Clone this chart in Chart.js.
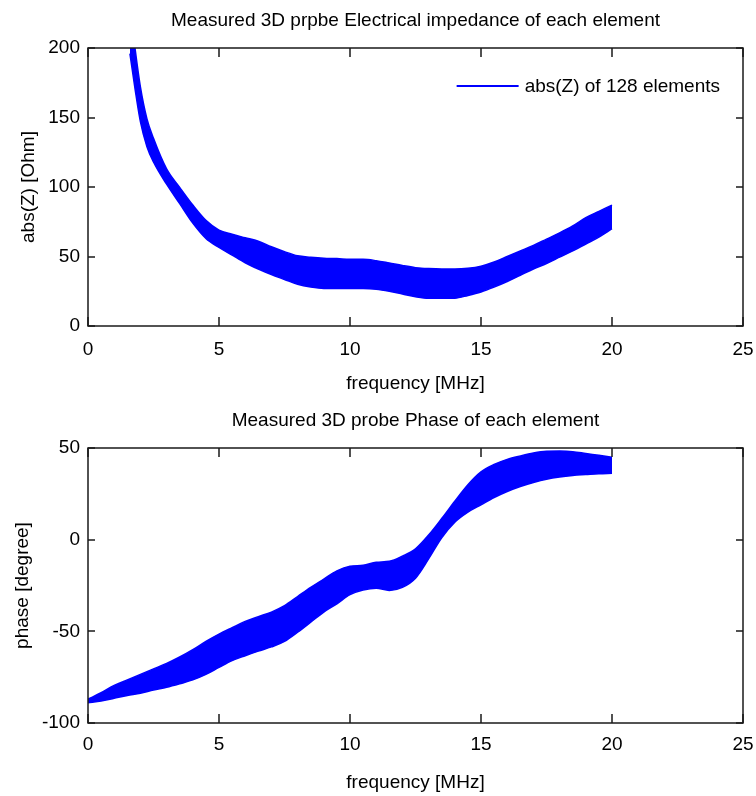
<!DOCTYPE html>
<html>
<head>
<meta charset="utf-8">
<title>Measured 3D probe impedance and phase</title>
<script src="https://cdn.jsdelivr.net/npm/chart.js@4.4.1/dist/chart.umd.min.js"></script>
<style>
  html, body { margin: 0; padding: 0; background: #fff; }
  canvas { display: block; }
</style>
</head>
<body>
<canvas id="impedanceChart" width="756" height="400"></canvas>
<canvas id="phaseChart" width="756" height="396"></canvas>
<script>
// envelope of the 128 element curves: top and bottom edge of the band
const freqZ = [1.6, 1.8, 2.0, 2.25, 2.5, 3, 3.5, 4, 4.5, 5, 5.5, 6, 6.5, 7, 7.5, 8, 8.5, 9, 9.5, 10,
               10.5, 11, 11.5, 12, 12.5, 13, 13.5, 14, 14.5, 15, 15.5, 16, 16.5, 17, 17.5, 18, 18.5, 19, 19.5, 20];
const absZUpper = [230, 199, 172, 149, 135, 113, 99.7, 87, 76, 69, 66, 63.5, 61, 57, 53.5, 50.5, 49.5, 48.8, 48.5, 48,
                   48, 47, 45.3, 43.5, 42, 41.3, 41, 41, 41.5, 43, 46, 50, 54, 58, 62.5, 67, 72, 78, 82.5, 87];
const absZLower = [196, 170, 147, 129, 118, 102, 88, 74, 63, 56.5, 51, 45.5, 41, 37, 33.5, 30, 28, 27, 27, 27,
                   27, 26.5, 25, 23, 21, 19.9, 19.9, 20, 22, 24.5, 28, 32, 36.5, 41, 45, 49.5, 54, 59, 64, 70];

const freqPhase = [0, 0.5, 1, 1.5, 2, 2.5, 3, 3.5, 4, 4.5, 5, 5.5, 6, 6.5, 7, 7.5, 8, 8.5, 9, 9.5, 10,
                   10.5, 11, 11.5, 12, 12.5, 13, 13.5, 14, 14.5, 15, 15.5, 16, 16.5, 17, 17.5, 18, 18.5, 19, 19.5, 20];
const phaseUpper = [-87, -83.5, -79.5, -76.5, -73.5, -70.5, -67.5, -64, -60, -55.5, -51.5, -48, -44.6, -42, -39.5, -36, -31, -26, -21.5, -17, -14.5,
                    -14, -12.3, -11.8, -9, -5, 2.5, 11.5, 21, 30, 37, 41, 43.8, 45.7, 47.3, 48.2, 48.3, 48, 47, 46, 45];
const phaseLower = [-89, -88, -86.5, -85, -83.8, -82, -80.5, -78.6, -76.5, -73.5, -69.7, -66, -63.3, -60.8, -58.5, -55.5, -50.5, -45, -39.5, -35, -30,
                    -27.5, -26.5, -27.7, -26, -21, -10.5, 1, 9.5, 15, 19, 23, 26.3, 29, 31.2, 33, 34.2, 35, 35.5, 36, 36.2];

const freqTicks = [0, 5, 10, 15, 20, 25];
const absZTicks = [0, 50, 100, 150, 200];
const phaseTicks = [-100, -50, 0, 50];

const FONT = "'Liberation Sans', Arial, sans-serif";
const FONT_SIZE = 19;
const BLUE = '#0000ff';

Chart.defaults.font.family = FONT;
Chart.defaults.font.size = FONT_SIZE;
Chart.defaults.color = '#000';

// matlab style frame: full box with inward ticks on every side
const boxTicks = {
    id: 'boxTicks',
    afterDatasetsDraw(chart) {
        const { ctx, chartArea: a, scales: { x, y } } = chart;
        ctx.save();
        ctx.strokeStyle = '#1a1a1a';
        ctx.lineWidth = 1.5;
        ctx.strokeRect(a.left, a.top, a.right - a.left, a.bottom - a.top);
        ctx.beginPath();
        x.ticks.forEach(t => {
            const px = Math.round(x.getPixelForValue(t.value));
            ctx.moveTo(px, a.bottom); ctx.lineTo(px, a.bottom - 9);
            ctx.moveTo(px, a.top); ctx.lineTo(px, a.top + 9);
        });
        y.ticks.forEach(t => {
            const py = Math.round(y.getPixelForValue(t.value));
            ctx.moveTo(a.left, py); ctx.lineTo(a.left + 7, py);
            ctx.moveTo(a.right, py); ctx.lineTo(a.right - 7, py);
        });
        ctx.stroke();
        ctx.restore();
    }
};

// legend entry inside the top right corner of the plot
const cornerLegend = {
    id: 'cornerLegend',
    afterDraw(chart, args, opts) {
        if (!opts.show) return;
        const { ctx, chartArea: a } = chart;
        const ds = chart.data.datasets[0];
        ctx.save();
        ctx.font = FONT_SIZE + 'px ' + FONT;
        const w = ctx.measureText(ds.label).width;
        const tx = a.right - 23 - w;
        const ty = a.top + 38;
        ctx.strokeStyle = ds.borderColor;
        ctx.lineWidth = 2;
        ctx.beginPath();
        ctx.moveTo(tx - 68, ty);
        ctx.lineTo(tx - 6, ty);
        ctx.stroke();
        ctx.fillStyle = '#000';
        ctx.textBaseline = 'middle';
        ctx.fillText(ds.label, tx, ty + 1);
        ctx.restore();
    }
};

function bandChart(canvasId, cfg) {
    const canvas = document.getElementById(canvasId);
    const H = canvas.height;
    return new Chart(canvas.getContext('2d'), {
        type: 'line',
        data: {
            datasets: [
                {
                    label: cfg.label,
                    data: cfg.freq.map((f, i) => ({ x: f, y: cfg.upper[i] })),
                    borderColor: BLUE,
                    backgroundColor: BLUE,
                    borderWidth: 1.5,
                    pointRadius: 0,
                    cubicInterpolationMode: 'monotone',
                    fill: '+1'
                },
                {
                    label: cfg.label + ' (lower)',
                    data: cfg.freq.map((f, i) => ({ x: f, y: cfg.lower[i] })),
                    borderColor: BLUE,
                    backgroundColor: BLUE,
                    borderWidth: 1.5,
                    pointRadius: 0,
                    cubicInterpolationMode: 'monotone',
                    fill: false
                }
            ]
        },
        options: {
            responsive: false,
            animation: false,
            layout: { padding: { left: 0, right: 13, top: 0, bottom: 0 } },
            plugins: {
                legend: { display: false },
                tooltip: { enabled: false },
                title: {
                    display: true,
                    fullSize: false,
                    text: cfg.title,
                    font: { weight: 'normal', lineHeight: 1 },
                    padding: { top: 11.5, bottom: 17.5 }
                },
                cornerLegend: { show: cfg.legend }
            },
            scales: {
                x: {
                    type: 'linear',
                    min: cfg.xTicks[0],
                    max: cfg.xTicks[cfg.xTicks.length - 1],
                    afterBuildTicks: s => { s.ticks = cfg.xTicks.map(v => ({ value: v })); },
                    afterFit: s => { s.height = H - cfg.bottom; s.paddingLeft = 0; s.paddingRight = 0; },
                    grid: { display: false, drawTicks: false },
                    border: { display: false },
                    ticks: { padding: cfg.xTickPad, maxRotation: 0, font: { lineHeight: 1 } },
                    title: {
                        display: true,
                        text: 'frequency [MHz]',
                        font: { lineHeight: 1 },
                        padding: { top: 0, bottom: cfg.xTitlePad }
                    }
                },
                y: {
                    min: cfg.yTicks[0],
                    max: cfg.yTicks[cfg.yTicks.length - 1],
                    afterBuildTicks: s => { s.ticks = cfg.yTicks.map(v => ({ value: v })); },
                    afterFit: s => { s.width = 88; s.paddingTop = 0; s.paddingBottom = 0; },
                    grid: { display: false, drawTicks: false },
                    border: { display: false },
                    ticks: { padding: 8, font: { lineHeight: 1 } },
                    title: {
                        display: true,
                        text: cfg.yLabel,
                        font: { lineHeight: 1 },
                        padding: { top: cfg.yTitlePad, bottom: 0 }
                    }
                }
            }
        },
        plugins: [boxTicks, cornerLegend]
    });
}

document.addEventListener('DOMContentLoaded', function () {
    bandChart('impedanceChart', {
        title: 'Measured 3D prpbe Electrical impedance of each element',
        label: 'abs(Z) of 128 elements',
        yLabel: 'abs(Z) [Ohm]',
        freq: freqZ, upper: absZUpper, lower: absZLower,
        xTicks: freqTicks, yTicks: absZTicks,
        bottom: 326, xTickPad: 14, xTitlePad: 6.5, yTitlePad: 19.5, legend: true
    });

    bandChart('phaseChart', {
        title: 'Measured 3D probe Phase of each element',
        label: 'phase of 128 elements',
        yLabel: 'phase [degree]',
        freq: freqPhase, upper: phaseUpper, lower: phaseLower,
        xTicks: freqTicks, yTicks: phaseTicks,
        bottom: 323, xTickPad: 12.5, xTitlePad: 4, yTitlePad: 13.5, legend: false
    });
});
</script>
</body>
</html>
